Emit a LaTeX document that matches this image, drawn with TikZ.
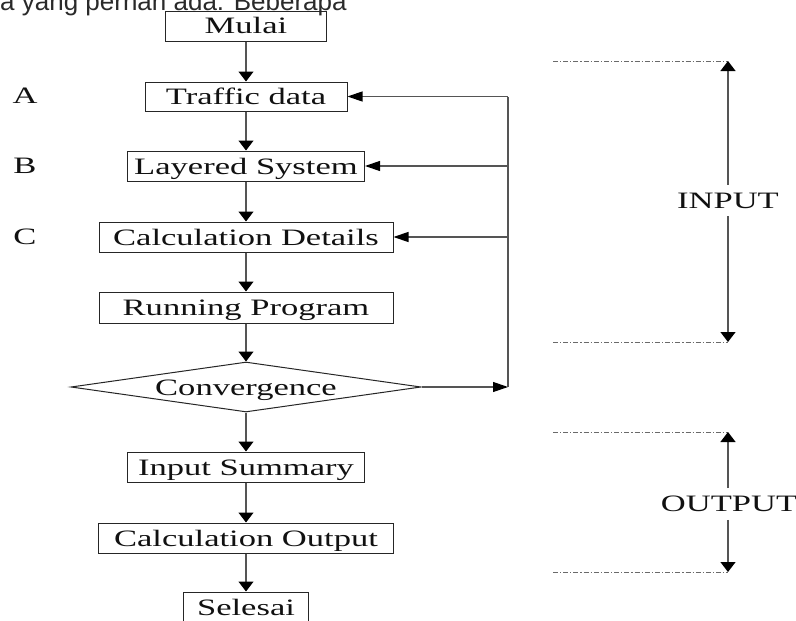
\documentclass[tikz,border=0pt]{standalone}
\usepackage{fontspec}
\setmainfont{Liberation Serif}
\newfontfamily\flowfont[FakeStretch=1.47]{Liberation Serif}
\newfontfamily\pagefont{Liberation Sans}
\usetikzlibrary{arrows.meta,shapes.geometric}
\definecolor{boxc}{HTML}{262626}
\definecolor{linec}{HTML}{555555}
\definecolor{txt}{HTML}{111111}
\definecolor{ddc}{HTML}{6A6A6A}
\definecolor{pagec}{HTML}{2A2A2A}
\begin{document}
\begin{tikzpicture}[x=1pt,y=-1pt,
  flowtext/.style={font=\flowfont\fontsize{23.5}{23.5}\selectfont, text=txt},
  box/.style={flowtext, draw=boxc, line width=1pt, inner sep=0pt,
    text height=16pt, text depth=0pt, minimum height=30pt},
  dia/.style={flowtext, diamond, draw=boxc, line width=1pt, inner sep=0pt, aspect=7,
    text height=16pt, text depth=0pt, minimum width=350pt, minimum height=50pt},
  lab/.style={flowtext, inner xsep=0pt, inner ysep=8pt, text height=15.5pt, text depth=0pt},
  conn/.style={draw=linec, line width=1.2pt},
  vflow/.style={conn, -{Triangle[length=10pt,width=15pt,color=black]}},
  hflow/.style={conn, -{Triangle[length=15pt,width=10pt,color=black]}},
  dd/.style={draw=ddc, line width=1pt, dash pattern=on 5pt off 2pt on 1.2pt off 2pt}
]
\clip (0,0) rectangle (796,621);
\fill[white] (0,0) rectangle (796,621);

% cut page text at top
\node[anchor=base west, font=\pagefont\fontsize{26}{26}\selectfont, text=pagec, inner sep=0pt]
  (pagetext) at (0,10.5) {a yang pernah ada. Beberapa};

% main flow
\node[box, minimum width=161pt, minimum height=30pt] (mulai) at (246,26) {Mulai};
\node[box, minimum width=202pt, minimum height=29pt] (traffic) at (246,96.5) {Traffic data};
\node[box, minimum width=237pt] (layered) at (246,166) {Layered System};
\node[box, minimum width=294pt] (details) at (246,237) {Calculation Details};
\node[box, minimum width=294pt, minimum height=31pt] (running) at (246,307.5) {Running Program};
\node[dia] (conv) at (246,387) {Convergence};
\node[box, minimum width=237pt] (summary) at (246,467) {Input Summary};
\node[box, minimum width=295pt] (output) at (246,538) {Calculation Output};
\node[box, minimum width=125pt] (selesai) at (246,607) {Selesai};

% side letters
\node[flowtext, inner sep=0pt] (la) at (25,96) {A};
\node[flowtext, inner sep=0pt] (lb) at (25,166) {B};
\node[flowtext, inner sep=0pt] (lc) at (25,237) {C};

% vertical connectors
\draw[vflow] (mulai.south) -- (traffic.north);
\draw[vflow] (traffic.south) -- (layered.north);
\draw[vflow] (layered.south) -- (details.north);
\draw[vflow] (details.south) -- (running.north);
\draw[vflow] (running.south) -- (conv.north);
\draw[vflow] (conv.south) -- (summary.north);
\draw[vflow] (summary.south) -- (output.north);
\draw[vflow] (output.south) -- (selesai.north);

% feedback loop
\coordinate (fb) at (508,387);
\coordinate (fbtop) at (508,96.5);
\draw[hflow] (conv.east) -- (fb);
\draw[conn] (fb) -- (fbtop);
\draw[hflow] (fbtop) -- (traffic.east);
\draw[hflow] (fb |- layered.east) -- (layered.east);
\draw[hflow] (fb |- details.east) -- (details.east);

% INPUT range
\coordinate (intop) at (728,61);
\coordinate (intopL) at (553,61);
\coordinate (inbot) at (728,342);
\coordinate (inbotL) at (553,342);
\draw[dd] (intopL) -- (intop);
\draw[dd] (inbotL) -- (inbot);
\node[lab] (input) at (728,200.5) {INPUT};
\draw[vflow] (input.north) -- (intop);
\draw[vflow] (input.south) -- (inbot);

% OUTPUT range
\coordinate (outtop) at (728,432);
\coordinate (outtopL) at (553,432);
\coordinate (outbot) at (728,572);
\coordinate (outbotL) at (553,572);
\draw[dd] (outtopL) -- (outtop);
\draw[dd] (outbotL) -- (outbot);
\node[lab] (outputlab) at (729,504) {OUTPUT};
\draw[vflow] (outputlab.north -| outtop) -- (outtop);
\draw[vflow] (outputlab.south -| outbot) -- (outbot);
\end{tikzpicture}
\end{document}
